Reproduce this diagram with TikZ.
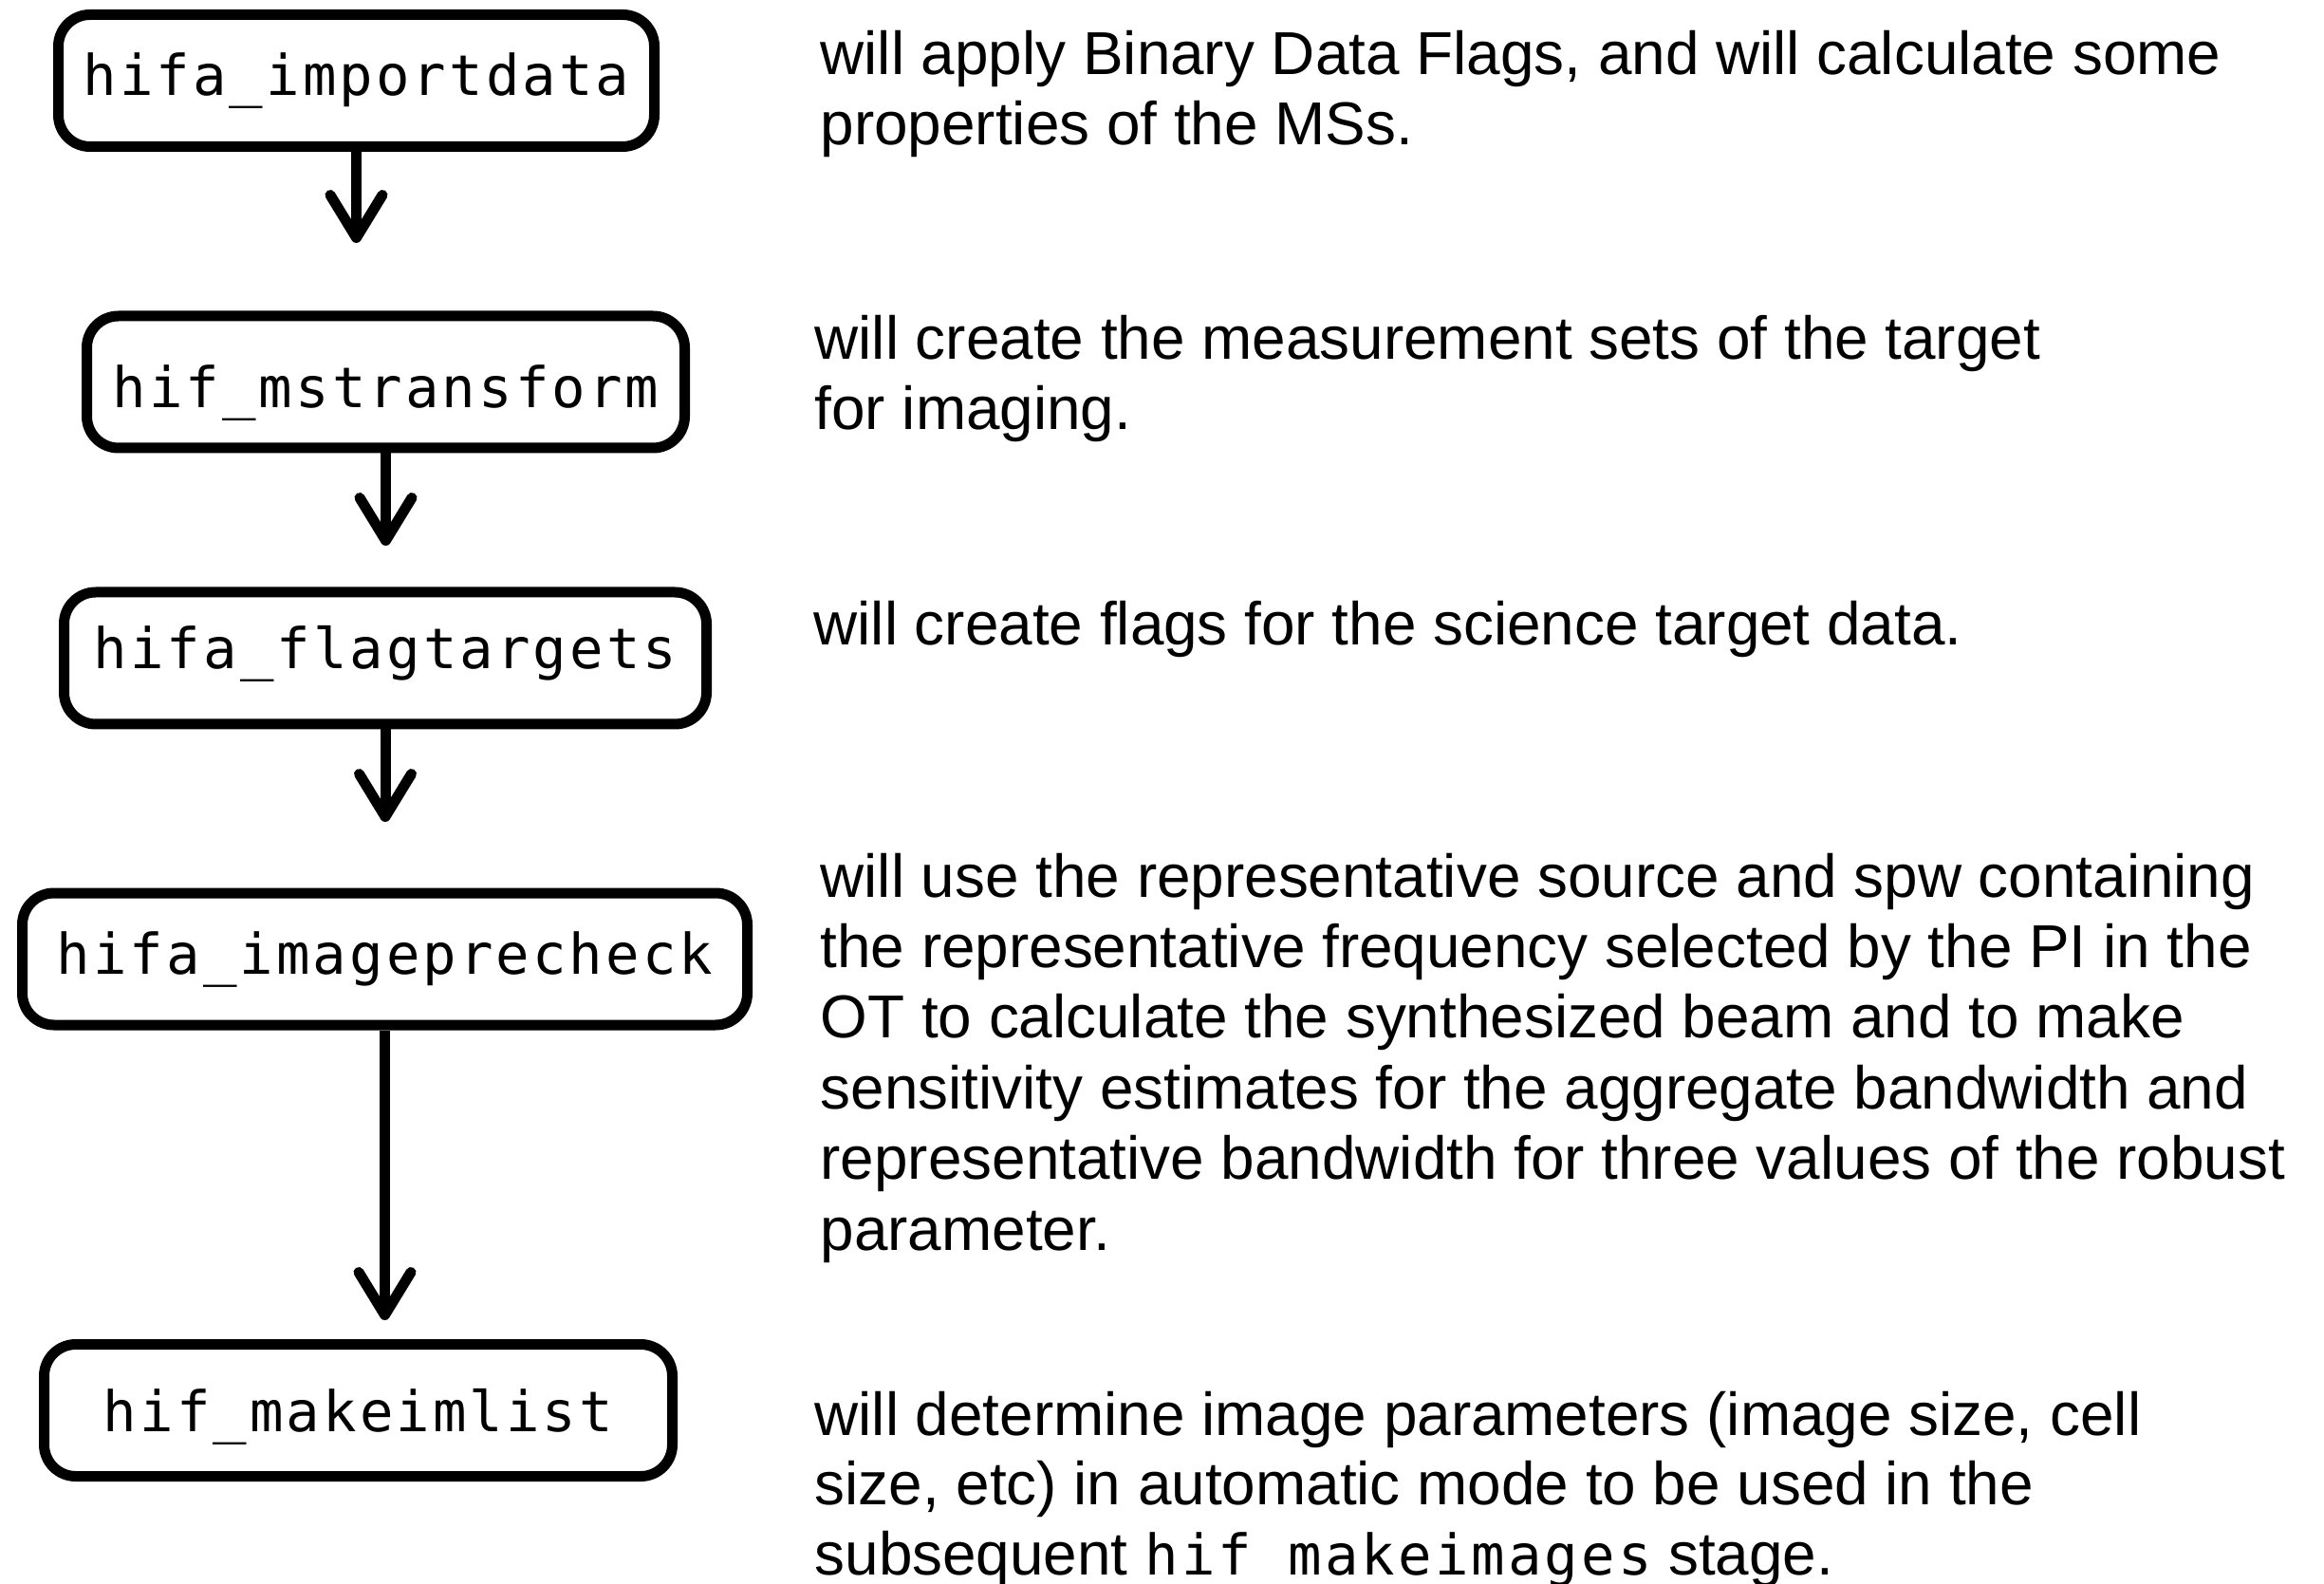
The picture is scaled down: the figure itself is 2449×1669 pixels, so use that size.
\documentclass[tikz,border=0pt]{standalone}
\usepackage{fontspec}
\setmainfont{Liberation Sans}
\newfontfamily\codefont[LetterSpace=5.2]{DejaVu Sans Mono}
\usetikzlibrary{arrows.meta}
\newcommand\codesize{\fontsize{17.7pt}{21pt}\selectfont}
\newcommand\bodysize{\fontsize{19.15pt}{22.05pt}\selectfont}
\newcommand\code[1]{{\codefont\codesize #1}}
\newcommand\notetext[1]{\parbox[t]{720pt}{\raggedright #1}}

\begin{document}
\begin{tikzpicture}[x=0.3pt,y=-0.3pt,
  stage/.style={draw, line width=3.3pt, rounded corners=10pt,
    minimum height=41.7pt, inner sep=0pt, text depth=4pt,
    font=\codesize\codefont},
  flow/.style={line width=3.3pt,
    -{Straight Barb[length=13.5pt,width=16.5pt,round]}},
  note/.style={anchor=base west, inner sep=0pt, font=\bodysize}]
\useasboundingbox (0,0) rectangle (2449,1669);

% pipeline stages
\node[stage, minimum width=188.4pt, text height=13.6pt] (b1) at (375.5,85)   {hifa\_importdata};
\node[stage, minimum width=189pt,   text height=20.2pt] (b2) at (406.5,402.5) {hif\_mstransform};
\node[stage, minimum width=203.1pt, text height=10.6pt] (b3) at (406,693.5)   {hifa\_flagtargets};
\node[stage, minimum width=229.2pt, text height=13.6pt] (b4) at (405.5,1010.5) {hifa\_imageprecheck};
\node[stage, minimum width=198.6pt, text height=17.2pt] (b5) at (377.5,1486)  {hif\_makeimlist};

% arrow tips stop short of the next stage
\coordinate (t1) at (b1.south |- 0,256);
\coordinate (t2) at (b2.south |- 0,575);
\coordinate (t3) at (b3.south |- 0,866);
\coordinate (t4) at (b4.south |- 0,1391);
\draw[flow] (b1.south) -- (t1);
\draw[flow] (b2.south) -- (t2);
\draw[flow] (b3.south) -- (t3);
\draw[flow] (b4.south) -- (t4);

% descriptions
\node[note] (n1) at (864,79) {\notetext{will apply Binary Data Flags, and will calculate some\\
properties of the MSs.}};
\node[note] (n2) at (858,379) {\notetext{will create the measurement sets of the target\\
for imaging.}};
\node[note] (n3) at (857,680) {\notetext{will create flags for the science target data.}};
\node[note] (n4) at (864,945) {\notetext{\baselineskip=22.35pt
will use the representative source and spw containing\\
the representative frequency selected by the PI in the\\
OT to calculate the synthesized beam and to make\\
sensitivity estimates for the aggregate bandwidth and\\
representative bandwidth for three values of the robust\\
parameter.}};
\node[note] (n5) at (858,1512) {\notetext{will determine image parameters (image size, cell\\
size, etc) in automatic mode to be used in the\\
subsequent \code{hif\ makeimages} stage.}};
\end{tikzpicture}
\end{document}
